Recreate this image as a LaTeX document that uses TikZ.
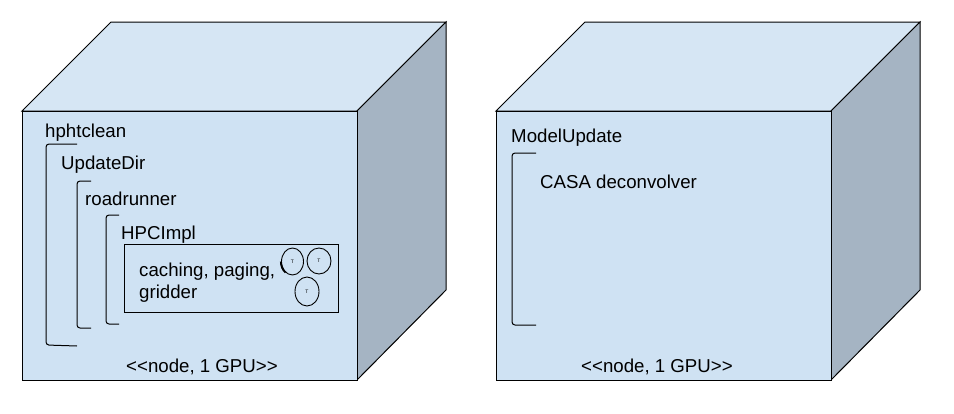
\documentclass[tikz,border=0pt]{standalone}
\usepackage{fontspec}
\setmainfont{Liberation Sans}[Ligatures=TeXOff]
\usetikzlibrary{shapes.geometric}
\definecolor{frontc}{HTML}{CFE2F3}
\definecolor{topc}{HTML}{D6E6F4}
\definecolor{sidec}{HTML}{A5B4C3}
\begin{document}
\begin{tikzpicture}[x=1pt,y=-1pt,
  edge/.style={draw=black, line width=1pt},
  lbl/.style={anchor=base west, inner sep=0, font=\fontsize{18.67}{22}\selectfont},
  brk/.style={draw=black, line width=1pt, rounded corners=3pt},
  tnode/.style={ellipse, draw=black, line width=0.9pt, inner sep=0, font=\fontsize{5}{6}\selectfont}]
\useasboundingbox (0,0) rectangle (954,413);
\fill[white] (0,0) rectangle (954,413);
% cubes
\foreach \o in {0,474}{
  \begin{scope}[xshift=\o pt]
    \filldraw[edge, fill=topc] (22,111) -- (111,22) -- (446,22) -- (357,111) -- cycle;
    \filldraw[edge, fill=sidec] (357,111) -- (446,22) -- (446,290) -- (357,380) -- cycle;
    \filldraw[edge, fill=frontc] (22,111) rectangle (357,380);
  \end{scope}
}
% left cube contents
\node[lbl] (hph) at (45,137) {hphtclean};
\draw[brk] (77,144) -- (46,144) -- (46,345) -- (77,346);
\node[lbl] (upd) at (61,169) {UpdateDir};
\draw[brk] (91,181) -- (77,181) -- (77,328) -- (91,328);
\node[lbl] (road) at (85,205) {roadrunner};
\draw[brk] (119,215) -- (106,215) -- (106,324) -- (119,324);
\node[lbl] (hpc) at (121,239) {HPCImpl};
\node[draw=black, line width=1pt, minimum width=214pt, minimum height=68pt, inner sep=0] (box) at (231,278) {};
\node[lbl] (cach) at (139,276) {caching, paging,};
\node[lbl] (grid) at (139,298) {gridder};
\node[tnode, minimum width=22pt, minimum height=27pt] (t1) at (292.5,261.5) {T};
\node[tnode, minimum width=24pt, minimum height=26pt] (t2) at (319,261) {T};
\node[tnode, minimum width=24pt, minimum height=29pt] (t3) at (307,291.5) {T};
\draw[line width=1.8pt] ([shift={(-0.2pt,0pt)}]t1.west) arc[start angle=180, end angle=235, x radius=11pt, y radius=13.5pt];
\node[lbl] (gpu1) at (126,372) {<<node, 1 GPU>>};
% right cube contents
\node[lbl] (mod) at (511,142) {ModelUpdate};
\draw[brk] (536,153) -- (512,153) -- (512,325) -- (536,325);
\node[lbl] (casa) at (540,188) {CASA deconvolver};
\node[lbl] (gpu2) at (581,372) {<<node, 1 GPU>>};
\end{tikzpicture}
\end{document}
